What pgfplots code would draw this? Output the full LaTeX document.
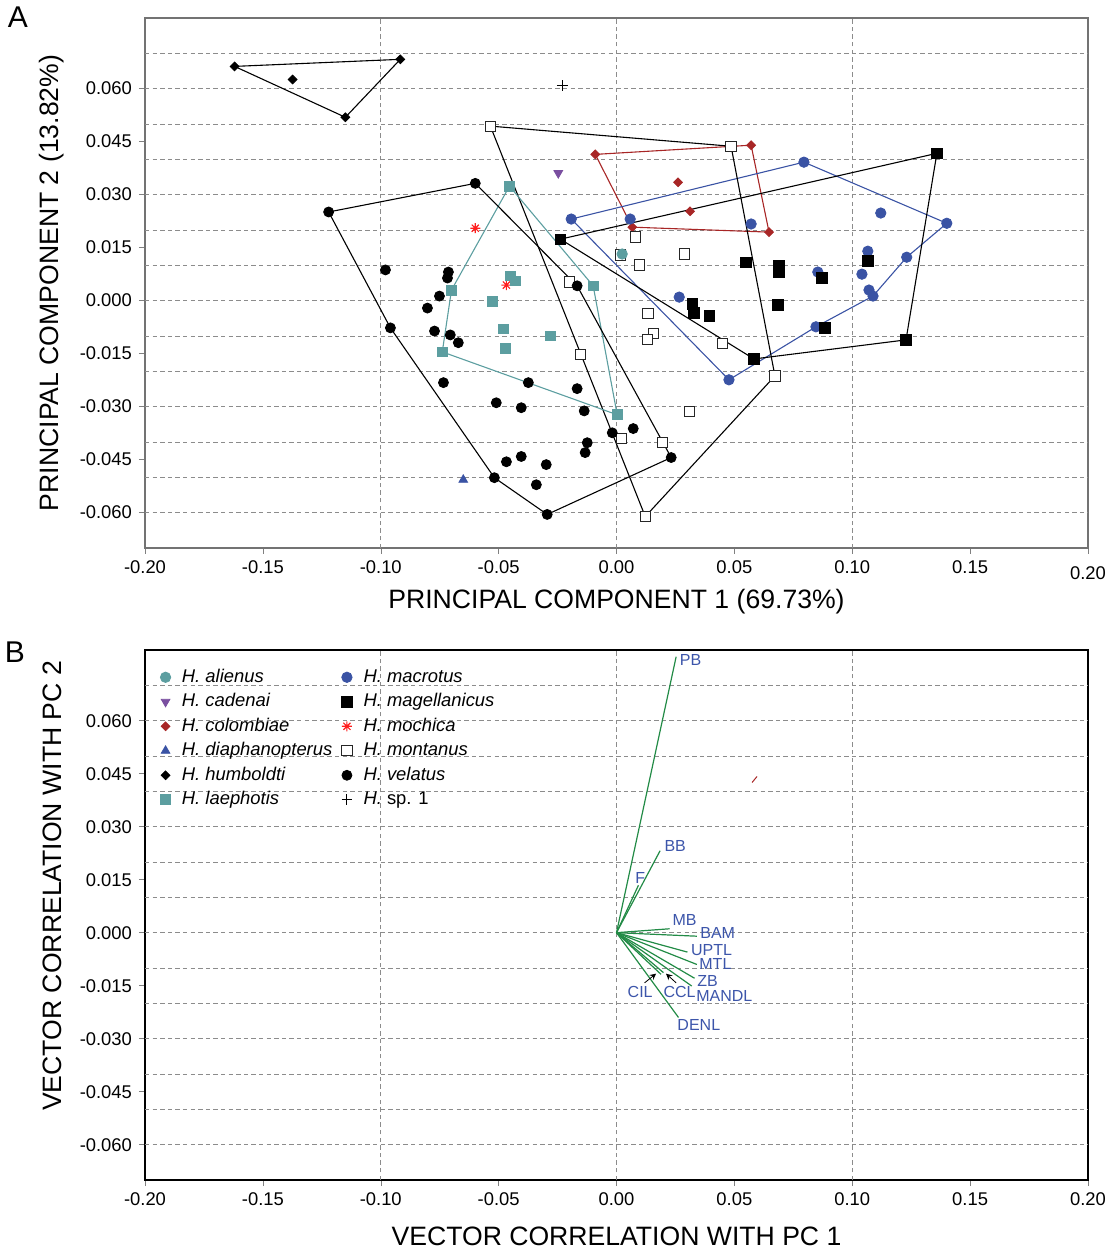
\documentclass[border=0pt]{standalone}
\usepackage{fontspec}
\setmainfont{Liberation Sans}
\usepackage{pgfplots}
\pgfplotsset{compat=1.18}
\definecolor{cteal}{RGB}{92,158,160}
\definecolor{cblue}{RGB}{58,83,164}
\definecolor{cred}{RGB}{168,38,38}
\definecolor{cpurple}{RGB}{122,79,160}
\definecolor{cast}{RGB}{255,30,30}
\definecolor{cgreen}{RGB}{34,139,70}
\definecolor{clabel}{RGB}{60,85,170}
\definecolor{cgrid}{RGB}{140,140,140}
\pgfdeclareplotmark{ast8}{%
  \pgfpathmoveto{\pgfqpoint{0pt}{\pgfplotmarksize}}\pgfpathlineto{\pgfqpoint{0pt}{-\pgfplotmarksize}}%
  \pgfpathmoveto{\pgfqpoint{\pgfplotmarksize}{0pt}}\pgfpathlineto{\pgfqpoint{-\pgfplotmarksize}{0pt}}%
  \pgfpathmoveto{\pgfqpoint{0.707\pgfplotmarksize}{0.707\pgfplotmarksize}}\pgfpathlineto{\pgfqpoint{-0.707\pgfplotmarksize}{-0.707\pgfplotmarksize}}%
  \pgfpathmoveto{\pgfqpoint{0.707\pgfplotmarksize}{-0.707\pgfplotmarksize}}\pgfpathlineto{\pgfqpoint{-0.707\pgfplotmarksize}{0.707\pgfplotmarksize}}%
  \pgfusepathqstroke}
\pgfplotsset{
  pcabase/.style={
    scale only axis, width=471.5pt, height=265pt,
    xmin=-0.2, xmax=0.2, ymin=-0.07, ymax=0.08,
    scaled ticks=false,
    tick align=outside, xtick pos=bottom, ytick pos=left,
    major tick length=3pt,
    xtick={-0.2,-0.15,-0.1,-0.05,0,0.05,0.1,0.15,0.2},
    ytick={-0.06,-0.045,-0.03,-0.015,0,0.015,0.03,0.045,0.06},
    yticklabels={-0.060,-0.045,-0.030,-0.015,0.000,0.015,0.030,0.045,0.060},
    ticklabel style={font=\fontsize{9.2}{11}\selectfont},
    extra x ticks={-0.1,0,0.1},
    extra y ticks={-0.06,-0.05,-0.04,-0.03,-0.02,-0.01,0,0.01,0.02,0.03,0.04,0.05,0.06,0.07},
    extra x tick labels={}, extra y tick labels={},
    extra tick style={grid=major, major tick length=0pt},
    grid style={cgrid, dash pattern=on 2.2pt off 1.6pt, line width=0.45pt},
  },
  hull/.style={no marks, sharp plot, line width=0.55pt},
  s alienus/.style={only marks, mark=*, mark size=2.6pt, color=cteal},
  s cadenai/.style={only marks, mark=triangle*, mark size=2.5pt, color=cpurple, mark options={rotate=180}},
  s colombiae/.style={only marks, mark=square*, mark size=1.55pt, color=cred, mark options={rotate=45}},
  s diaph/.style={only marks, mark=triangle*, mark size=2.5pt, color=cblue},
  s humboldti/.style={only marks, mark=square*, mark size=1.55pt, color=black, mark options={rotate=45}},
  s laephotis/.style={only marks, mark=square*, mark size=2.45pt, color=cteal},
  s macrotus/.style={only marks, mark=*, mark size=2.6pt, color=cblue},
  s magell/.style={only marks, mark=square*, mark size=2.6pt, color=black},
  s mochica/.style={only marks, mark=ast8, mark size=2.5pt, color=cast, line width=0.55pt},
  s montanus/.style={only marks, mark=square*, mark size=2.55pt, draw=black!85, fill=white, mark options={line width=0.5pt}},
  s velatus/.style={only marks, mark=*, mark size=2.5pt, color=black},
  s sp/.style={only marks, mark=+, mark size=2.7pt, color=black, line width=0.5pt},
}
\begin{document}
\begin{tikzpicture}
% ---------------- Panel A ----------------
\begin{axis}[pcabase, name=a, at={(0pt,0pt)}, anchor=south west,
  axis line style={black!55, line width=0.9pt},
  xticklabels={-0.20,-0.15,-0.10,-0.05,0.00,0.05,0.10,0.15,\vphantom{0}\smash{\raisebox{-2.6pt}{0.20}}},
  every axis x label/.style={at={(axis description cs:0.5,-0.102)}, anchor=center, font=\fontsize{13.3}{15}\selectfont},
  every axis y label/.style={at={(axis description cs:-0.0986,0.5)}, rotate=90, anchor=center, font=\fontsize{13.3}{15}\selectfont},
  xlabel={PRINCIPAL COMPONENT 1 (69.73\%)},
  ylabel={PRINCIPAL COMPONENT 2 (13.82\%)}]
% hulls
\addplot[hull, black] coordinates {(-0.1620,0.0663) (-0.0917,0.0683) (-0.1150,0.0519) (-0.1620,0.0663)};
\addplot[hull, cred] coordinates {(-0.0090,0.0414) (0.0571,0.0440) (0.0647,0.0194) (0.0067,0.0208) (-0.0090,0.0414)};
\addplot[hull, cblue] coordinates {(-0.0192,0.0231) (0.0795,0.0392) (0.1401,0.0219) (0.1231,0.0123) (0.1088,0.0013) (0.0846,-0.0074) (0.0477,-0.0224) (-0.0192,0.0231)};
\addplot[hull, black] coordinates {(-0.0238,0.0174) (0.1359,0.0417) (0.1228,-0.0111) (0.0583,-0.0165) (-0.0238,0.0174)};
\addplot[hull, black] coordinates {(-0.0535,0.0494) (0.0486,0.0437) (0.0672,-0.0213) (0.0122,-0.0611) (-0.0535,0.0494)};
\addplot[hull, cteal] coordinates {(-0.0454,0.0324) (-0.0099,0.0042) (0.0003,-0.0323) (-0.0739,-0.0145) (-0.0700,0.0030) (-0.0454,0.0324)};
\addplot[hull, black] coordinates {(-0.1221,0.0251) (-0.0599,0.0332) (-0.0167,0.0042) (0.0232,-0.0444) (-0.0294,-0.0605) (-0.0518,-0.0501) (-0.0959,-0.0077) (-0.1221,0.0251)};
% points
\addplot[s humboldti] coordinates {(-0.1620,0.0663) (-0.1374,0.0626) (-0.1150,0.0519) (-0.0917,0.0683)};
\addplot[s sp] coordinates {(-0.0230,0.0609)};
\addplot[s cadenai] coordinates {(-0.0247,0.0361)};
\addplot[s mochica] coordinates {(-0.0599,0.0205) (-0.0467,0.0044)};
\addplot[s diaph] coordinates {(-0.0650,-0.0507)};
\addplot[s colombiae] coordinates {(-0.0090,0.0414) (0.0571,0.0440) (0.0261,0.0335) (0.0312,0.0253) (0.0067,0.0208) (0.0647,0.0194)};
\addplot[s montanus] coordinates {(-0.0535,0.0494) (0.0486,0.0437) (0.0079,0.0180) (0.0016,0.0129) (0.0096,0.0101) (0.0287,0.0132) (-0.0200,0.0053) (0.0134,-0.0037) (0.0156,-0.0094) (0.0130,-0.0111) (0.0448,-0.0122) (0.0672,-0.0213) (-0.0154,-0.0153) (0.0308,-0.0314) (0.0020,-0.0391) (0.0194,-0.0402) (0.0122,-0.0611)};
\addplot[s alienus] coordinates {(0.0024,0.0132)};
\addplot[s macrotus] coordinates {(-0.0192,0.0231) (0.0058,0.0231) (0.0795,0.0392) (0.0571,0.0217) (0.1121,0.0248) (0.1401,0.0219) (0.1066,0.0140) (0.1231,0.0123) (0.0854,0.0081) (0.1041,0.0075) (0.1071,0.0030) (0.1088,0.0013) (0.0266,0.0010) (0.0846,-0.0074) (0.0477,-0.0224)};
\addplot[s magell] coordinates {(-0.0238,0.0174) (0.1359,0.0417) (0.0549,0.0109) (0.0689,0.0098) (0.0689,0.0081) (0.0871,0.0064) (0.1066,0.0112) (0.0321,-0.0009) (0.0329,-0.0035) (0.0393,-0.0043) (0.0685,-0.0012) (0.0884,-0.0077) (0.0583,-0.0165) (0.1228,-0.0111)};
\addplot[s laephotis] coordinates {(-0.0454,0.0324) (-0.0450,0.0070) (-0.0429,0.0056) (-0.0700,0.0030) (-0.0527,-0.0001) (-0.0099,0.0042) (-0.0480,-0.0080) (-0.0281,-0.0100) (-0.0472,-0.0134) (-0.0739,-0.0145) (0.0003,-0.0323)};
\addplot[s velatus] coordinates {(-0.1221,0.0251) (-0.0599,0.0332) (-0.0980,0.0087) (-0.0713,0.0081) (-0.0717,0.0064) (-0.0751,0.0013) (-0.0802,-0.0021) (-0.0959,-0.0077) (-0.0772,-0.0086) (-0.0705,-0.0097) (-0.0671,-0.0119) (-0.0734,-0.0232) (-0.0374,-0.0232) (-0.0510,-0.0289) (-0.0404,-0.0303) (-0.0167,0.0042) (-0.0167,-0.0249) (-0.0137,-0.0312) (-0.0018,-0.0374) (0.0071,-0.0362) (-0.0124,-0.0402) (-0.0133,-0.0430) (-0.0467,-0.0456) (-0.0404,-0.0441) (-0.0298,-0.0464) (-0.0518,-0.0501) (-0.0340,-0.0521) (-0.0294,-0.0605) (0.0232,-0.0444)};
\end{axis}
% ---------------- Panel B ----------------
\begin{axis}[pcabase, name=b, at={(0pt,-316pt)}, anchor=south west,
  axis line style={black, line width=0.6pt},
  xticklabels={-0.20,-0.15,-0.10,-0.05,0.00,0.05,0.10,0.15,0.20},
  every axis x label/.style={at={(axis description cs:0.5,-0.106)}, anchor=center, font=\fontsize{13.3}{15}\selectfont},
  every axis y label/.style={at={(axis description cs:-0.0986,0.555)}, rotate=90, anchor=center, font=\fontsize{13.3}{15}\selectfont},
  xlabel={VECTOR CORRELATION WITH PC 1},
  ylabel={VECTOR CORRELATION WITH PC 2},
  legend image code/.code={\draw[#1] plot coordinates {(0pt,0pt)};},
  legend columns=2,
  legend cell align=left,
  legend style={at={(axis description cs:0.0095,0.977)}, anchor=north west, draw=none, fill=none,
    font=\fontsize{9.2}{11}\selectfont,
    nodes={inner sep=1pt, text height=6.8pt, text depth=1.9pt},
    row sep=1.55pt,
    /tikz/every odd column/.append style={column sep=4.6pt},
    /tikz/every even column/.append style={column sep=3.6pt}},
  ]
\addlegendimage{s alienus}
\addlegendimage{s macrotus}
\addlegendimage{s cadenai}
\addlegendimage{s magell}
\addlegendimage{s colombiae}
\addlegendimage{s mochica}
\addlegendimage{s diaph}
\addlegendimage{s montanus}
\addlegendimage{s humboldti}
\addlegendimage{s velatus}
\addlegendimage{s laephotis}
\addlegendimage{s sp}
\legend{\textit{H. alienus},\textit{H. macrotus},\textit{H. cadenai},\textit{H. magellanicus},\textit{H. colombiae},\textit{H. mochica},\textit{H. diaphanopterus},\textit{H. montanus},\textit{H. humboldti},\textit{H. velatus},\textit{H. laephotis},\textit{H.} sp. 1}
% loading vectors
\addplot[cgreen, line width=0.6pt, forget plot] coordinates {(0,0) (0.0253,0.0781)};
\addplot[cgreen, line width=0.6pt, forget plot] coordinates {(0,0) (0.0185,0.0232)};
\addplot[cgreen, line width=0.6pt, forget plot] coordinates {(0,0) (0.0093,0.0134)};
\addplot[cgreen, line width=0.6pt, forget plot] coordinates {(0,0) (0.0225,0.0011)};
\addplot[cgreen, line width=0.6pt, forget plot] coordinates {(0,0) (0.0341,-0.0010)};
\addplot[cgreen, line width=0.6pt, forget plot] coordinates {(0,0) (0.0301,-0.0055)};
\addplot[cgreen, line width=0.6pt, forget plot] coordinates {(0,0) (0.0341,-0.0090)};
\addplot[cgreen, line width=0.6pt, forget plot] coordinates {(0,0) (0.0331,-0.0129)};
\addplot[cgreen, line width=0.6pt, forget plot] coordinates {(0,0) (0.0319,-0.0151)};
\addplot[cgreen, line width=0.6pt, forget plot] coordinates {(0,0) (0.0199,-0.0113)};
\addplot[cgreen, line width=0.6pt, forget plot] coordinates {(0,0) (0.0189,-0.0118)};
\addplot[cgreen, line width=0.6pt, forget plot] coordinates {(0,0) (0.0263,-0.0240)};
% pointer arrows
\addplot[black, line width=0.4pt, -stealth, forget plot] coordinates {(0.0119,-0.0142) (0.0168,-0.0116)};
\addplot[black, line width=0.4pt, -stealth, forget plot] coordinates {(0.0253,-0.0142) (0.0210,-0.0116)};
% small red stroke
\addplot[cred, line width=0.5pt, forget plot] coordinates {(0.0575,0.0425) (0.0596,0.0442)};
% labels
\begin{scope}[every node/.style={anchor=west, inner sep=0pt, text=clabel, font=\fontsize{8}{9}\selectfont}]
\node at (axis cs:0.0267,0.0771) {PB};
\node at (axis cs:0.0202,0.0245) {BB};
\node at (axis cs:0.0078,0.0156) {F};
\node at (axis cs:0.0236,0.0035) {MB};
\node at (axis cs:0.0354,0.0000) {BAM};
\node at (axis cs:0.0315,-0.0050) {UPTL};
\node at (axis cs:0.0350,-0.0090) {MTL};
\node at (axis cs:0.0341,-0.0138) {ZB};
\node at (axis cs:0.0337,-0.0178) {MANDL};
\node at (axis cs:0.0198,-0.0169) {CCL};
\node at (axis cs:0.0046,-0.0169) {CIL};
\node at (axis cs:0.0257,-0.0262) {DENL};
\end{scope}
\end{axis}
\node[font=\fontsize{15}{17}\selectfont, anchor=center] at ([xshift=-63.5pt,yshift=0.5pt]a.north west) {A};
\node[font=\fontsize{15}{17}\selectfont, anchor=center] at ([xshift=-65pt,yshift=-1pt]b.north west) {B};
\pgfresetboundingbox
\path (-72.5pt,274pt) rectangle (485.5pt,-351.5pt);
\end{tikzpicture}
\end{document}
